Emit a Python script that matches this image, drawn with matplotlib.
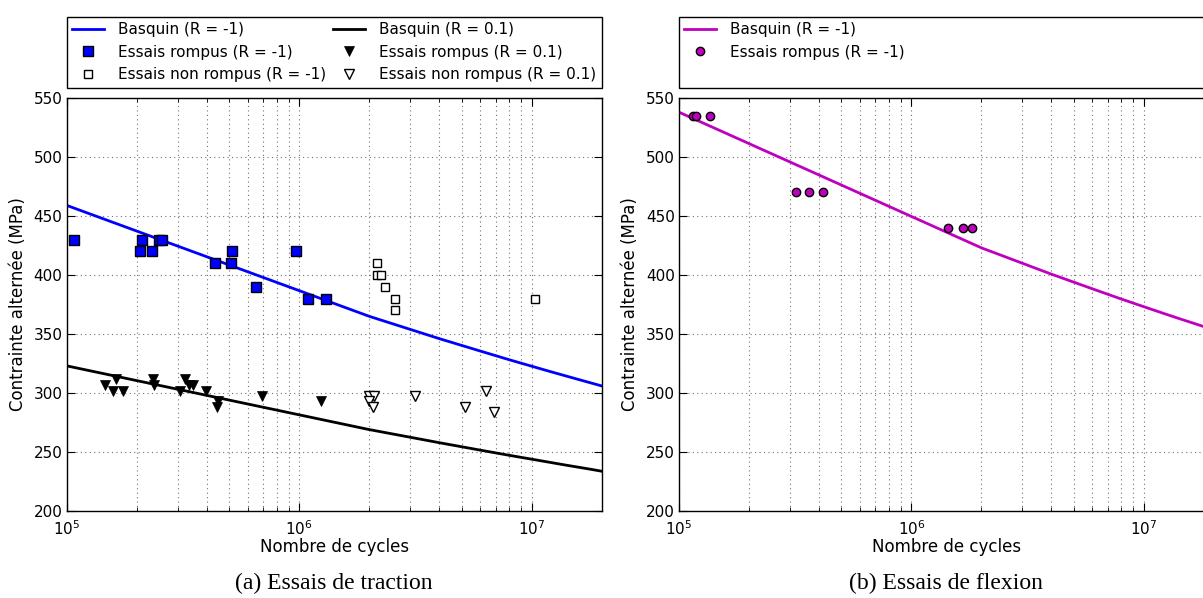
import matplotlib
matplotlib.use("Agg")
import matplotlib.pyplot as plt
from matplotlib.lines import Line2D

# Basquin curves (cycles, stress in MPa)
basquin_N = [1e5, 2e6, 4e6, 6e6, 8e6, 1e7, 1.2e7, 1.4e7, 1.6e7, 1.8e7, 2e7]
basquin_trac_m1 = [459, 365, 346.1, 335.6, 328.2, 322.7, 318.2, 314.5, 311.3, 308.5, 306.0]
basquin_trac_01 = [323, 269, 257.9, 251.6, 247.2, 243.9, 241.2, 238.9, 237.0, 235.3, 233.7]
basquin_flex_m1 = [538, 423, 400.7, 388.3, 379.6, 373.1, 367.8, 363.4, 359.7, 356.4, 353.5]

# traction, R = -1, broken
rompus_m1_N = [1.08e5, 2.07e5, 2.11e5, 2.32e5, 2.49e5, 2.57e5, 4.36e5, 5.08e5,
               5.15e5, 6.49e5, 9.73e5, 1.09e6, 1.3e6]
rompus_m1_S = [430, 420, 430, 420, 430, 430, 410, 410, 420, 390, 420, 380, 380]

# traction, R = -1, not broken
non_rompus_m1_N = [2.16e6, 2.17e6, 2.24e6, 2.35e6, 2.59e6, 2.58e6, 1.03e7]
non_rompus_m1_S = [410, 400, 400, 390, 380, 370, 380]

# traction, R = 0.1, broken
rompus_01_N = [1.46e5, 1.63e5, 1.58e5, 1.74e5, 2.34e5, 2.38e5, 3.08e5, 3.24e5,
               3.35e5, 3.48e5, 3.98e5, 4.47e5, 4.43e5, 6.93e5, 1.24e6]
rompus_01_S = [307, 311.5, 302, 302, 311.5, 307, 302, 311.5, 307, 307, 302,
               293, 288.5, 297.5, 293]

# traction, R = 0.1, not broken
non_rompus_01_N = [2.0e6, 2.1e6, 2.0e6, 2.07e6, 3.15e6, 5.16e6, 6.35e6, 6.87e6]
non_rompus_01_S = [297.5, 297.5, 293, 288.5, 297.5, 288.5, 302, 284]

# flexion, R = -1, broken
flex_N = [1.15e5, 1.18e5, 1.36e5, 3.18e5, 3.62e5, 4.18e5, 1.43e6, 1.66e6, 1.83e6]
flex_S = [535, 535, 535, 470, 470, 470, 440, 440, 440]

plt.rcParams['font.family'] = 'DejaVu Sans'
plt.rcParams['xtick.direction'] = 'in'
plt.rcParams['ytick.direction'] = 'in'
plt.rcParams['xtick.top'] = True
plt.rcParams['ytick.right'] = True
plt.rcParams['xtick.labelsize'] = 11
plt.rcParams['ytick.labelsize'] = 11

fig = plt.figure(figsize=(12.03, 5.98), dpi=100)
ax1 = fig.add_axes([0.05545, 0.1455, 0.4447, 0.6906])
ax2 = fig.add_axes([0.5644, 0.1455, 0.4447, 0.6906])


def style_axes(ax):
    ax.set_xscale('log')
    ax.set_xlim(1e5, 2e7)
    ax.set_ylim(200, 550)
    ax.set_yticks(range(200, 551, 50))
    ax.grid(True, which='major', axis='y', linestyle=(0, (1, 3)), color='0.45', lw=0.8)
    ax.grid(True, which='both', axis='x', linestyle=(0, (1, 3)), color='0.45', lw=0.8)
    ax.tick_params(which='major', length=6, width=0.8, pad=3)
    ax.tick_params(axis='x', which='major', pad=6)
    ax.tick_params(which='minor', length=3, width=0.6)
    ax.set_xlabel('Nombre de cycles', fontsize=12, labelpad=0)
    ax.set_ylabel('Contrainte alternée (MPa)', fontsize=12, labelpad=5)
    for s in ax.spines.values():
        s.set_linewidth(1.0)
    ax.set_axisbelow(True)


style_axes(ax1)
style_axes(ax2)

leg_kw = dict(loc='lower left', bbox_to_anchor=(0., 1.025, 1., 0.1), mode='expand',
              borderaxespad=0., fontsize=11, numpoints=1, fancybox=False,
              edgecolor='black', framealpha=1, handlelength=2.1, handletextpad=0.9,
              labelspacing=0.5, borderpad=0.35)

# traction
l1, = ax1.plot(basquin_N, basquin_trac_m1, color='#0000ff', lw=2)
l2, = ax1.plot(basquin_N, basquin_trac_01, color='black', lw=2)
p1, = ax1.plot(rompus_m1_N, rompus_m1_S, 's', ms=6.5, mfc='#0000ff', mec='black', mew=1)
p2, = ax1.plot(non_rompus_m1_N, non_rompus_m1_S, 's', ms=6, mfc='white', mec='black', mew=1)
p3, = ax1.plot(rompus_01_N, rompus_01_S, 'v', ms=7, mfc='black', mec='black', mew=0.5)
p4, = ax1.plot(non_rompus_01_N, non_rompus_01_S, 'v', ms=6.5, mfc='white', mec='black', mew=1)

ax1.legend([l1, p1, p2, l2, p3, p4],
           ['Basquin (R = -1)', 'Essais rompus (R = -1)', 'Essais non rompus (R = -1)',
            'Basquin (R = 0.1)', 'Essais rompus (R = 0.1)', 'Essais non rompus (R = 0.1)'],
           ncol=2, columnspacing=0.4, **leg_kw)

# flexion
l3, = ax2.plot(basquin_N, basquin_flex_m1, color='#bf00bf', lw=2)
p5, = ax2.plot(flex_N, flex_S, 'o', ms=6, mfc='#bf00bf', mec='black', mew=1)
blank = Line2D([], [], linestyle='none')
ax2.legend([l3, p5, blank], ['Basquin (R = -1)', 'Essais rompus (R = -1)', ' '],
           ncol=1, **leg_kw)

fig.text(0.2778, 0.025, '(a) Essais de traction', ha='center', va='center',
         fontsize=17, family='Liberation Serif')
fig.text(0.7867, 0.025, '(b) Essais de flexion', ha='center', va='center',
         fontsize=17, family='Liberation Serif')

fig.savefig('out.png', dpi=100)
